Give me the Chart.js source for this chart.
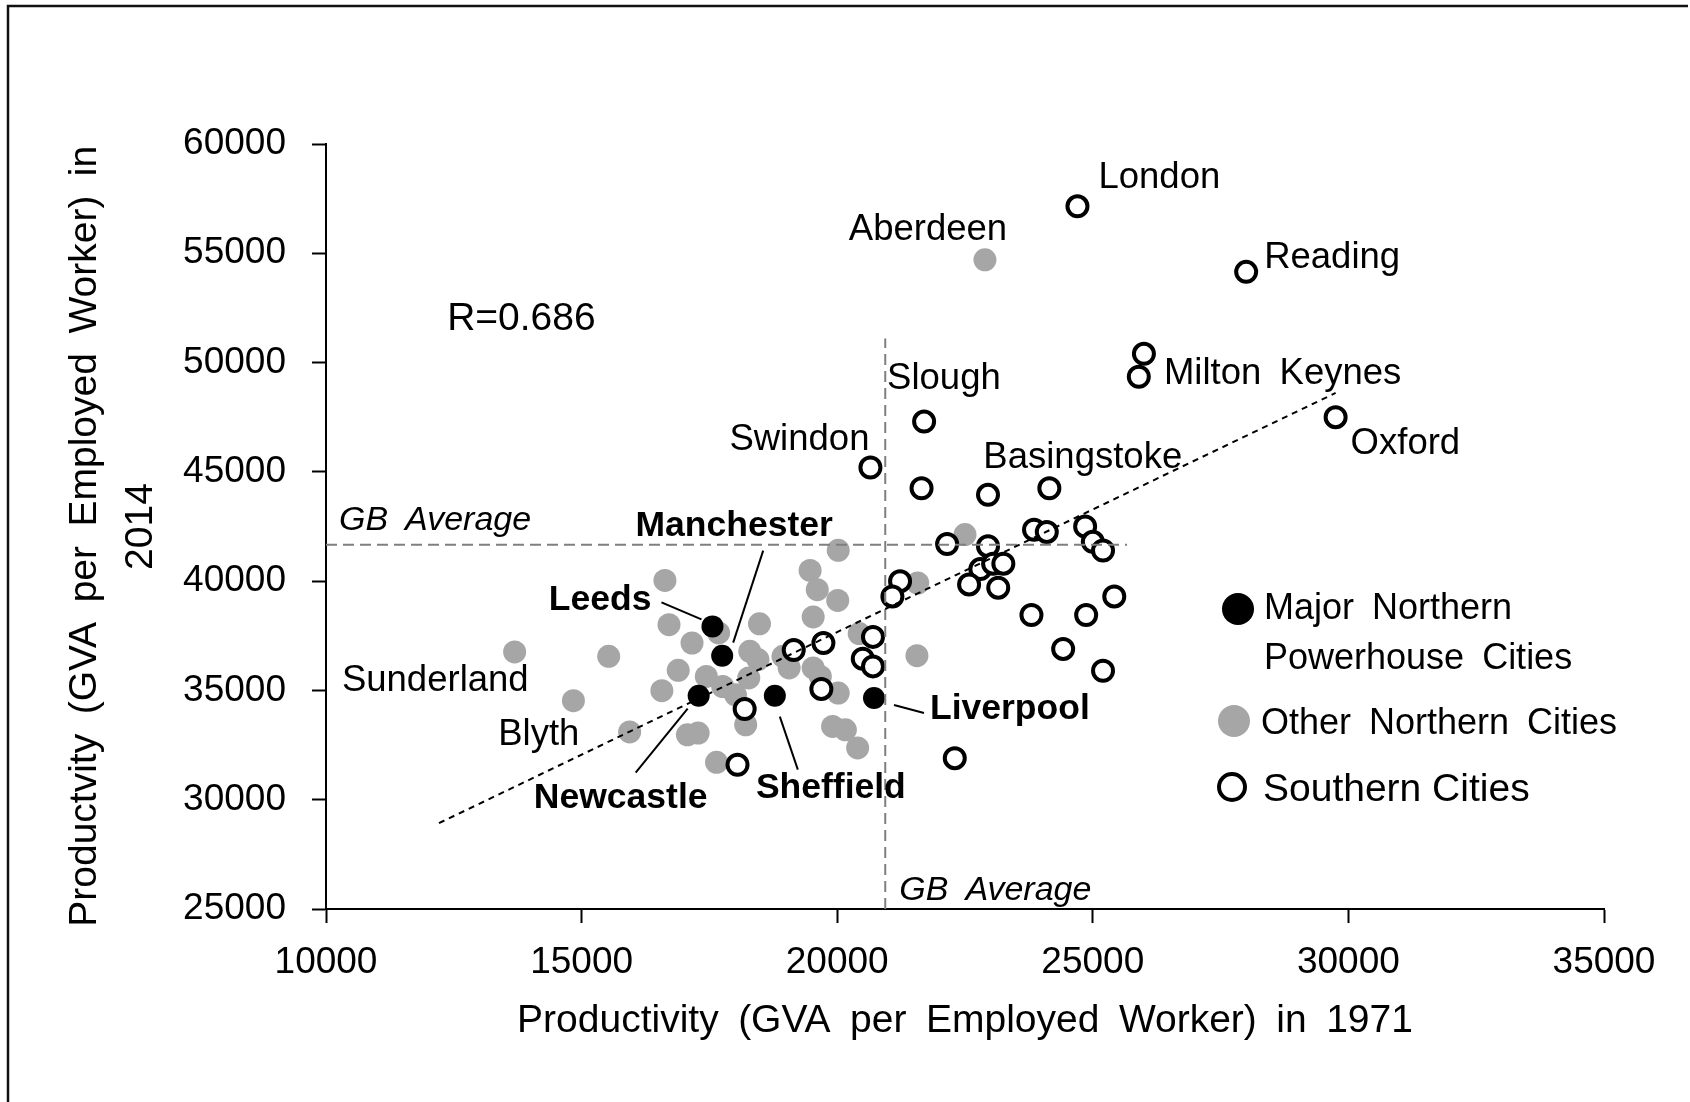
<!DOCTYPE html>
<html>
<head>
<meta charset="utf-8">
<script src="https://cdn.jsdelivr.net/npm/chart.js@4.4.1/dist/chart.umd.min.js"></script>
<style>
  html, body { margin: 0; padding: 0; background: #fff; }
  canvas { display: block; }
</style>
</head>
<body>
<canvas id="chart" width="1690" height="1102"></canvas>
<script>
// Productivity (GVA per employed worker) by city: 1971 against 2014

// Axis ticks
const xTicks = [10000, 15000, 20000, 25000, 30000, 35000];
const yTicks = [25000, 30000, 35000, 40000, 45000, 50000, 55000, 60000];

// Major Northern Powerhouse cities
const majorNames = ['Leeds', 'Manchester', 'Newcastle', 'Sheffield', 'Liverpool'];
const major1971  = [17560, 17750, 17290, 18780, 20720];
const major2014  = [37930, 36590, 34760, 34760, 34650];

// Other Northern cities
const otherNames = ['Aberdeen', 'Sunderland', 'Blyth', '', '', '', '', '', '', '', '', '', '', '', '', '', '', '', '', '', '', '', '', '', '', '', '', '', '', '', '', '', '', '', '', '', '', '', ''];
const other1971  = [22890, 13690, 14840, 15530, 15940, 16630, 16710, 17160, 16890, 16570, 17440, 17680, 18480, 18290, 18450, 18270, 17760, 18010, 18210, 17070, 17280, 17640, 19060, 18940, 19470, 19610, 20020, 20010, 19530, 19530, 19670, 20020, 19910, 20160, 20400, 20430, 21560, 21575, 22500];
const other2014  = [54700, 36760, 34530, 36560, 33100, 40030, 38010, 37170, 35920, 34990, 35640, 37630, 38050, 36790, 36410, 35570, 35180, 34800, 33430, 32970, 33050, 31710, 36030, 36560, 40490, 39610, 41410, 39120, 38360, 36030, 35640, 34880, 33350, 33200, 32370, 37600, 36590, 39915, 42130];

// Southern cities
const southNames = ['London', 'Reading', 'Milton\u2002Keynes', '', 'Oxford', 'Slough', 'Swindon', '', '', 'Basingstoke', '', '', '', '', '', '', '', '', '', '', '', '', '', '', '', '', '', '', '', '', '', '', '', '', '', '', '', ''];
const south1971  = [24700, 28000, 26000, 25900, 29750, 21700, 20650, 21650, 22950, 24150, 22150, 22950, 23850, 24100, 24850, 25000, 25200, 22800, 23050, 23250, 22580, 23150, 21230, 21080, 23800, 24870, 25420, 24420, 25200, 22300, 20700, 20500, 20700, 19150, 19730, 19690, 18190, 18050];
const south2014  = [57150, 54150, 50400, 49350, 47500, 47300, 45200, 44250, 43950, 44250, 41700, 41600, 42350, 42250, 42500, 41800, 41400, 40550, 40800, 40800, 39850, 39700, 40000, 39300, 38450, 38450, 39300, 36900, 35900, 31900, 37450, 36450, 36100, 36850, 37170, 35070, 34150, 31600];

// Linear fit end points
const trend1971 = [12210, 29750];
const trend2014 = [28930, 48610];

// GB averages and how far their guide lines run
const gbAverage1971 = 20940;
const gbAverage2014 = 41670;
const gbGuideTop2014 = 51100;
const gbGuideRight1971 = 25670;

const correlationText = 'R=0.686';
const xTitle = 'Productivity\u2002(GVA\u2002per\u2002Employed\u2002Worker)\u2002in\u20021971';
const yTitle = ['Productvity\u2002(GVA\u2002per\u2002Employed\u2002Worker)\u2002in\u2002', '2014'];
const gbLabel = 'GB\u2002Average';
const legendText = [['Major\u2002Northern', 'Powerhouse\u2002Cities'], ['Other\u2002Northern\u2002Cities'], ['Southern Cities']];

const toPoints = (xs, ys) => xs.map((x, i) => ({ x: x, y: ys[i] }));

const FONT = "'Liberation Sans', Arial, Helvetica, sans-serif";
const GREY = '#a6a6a6';
const TEXT_DROP = 3; // nudges 'middle' baseline onto the cap-height centre

// Label placement, in pixels from the labelled point
const cityLabels = [
  { name: 'London',        set: 2, dx: 21,  dy: -31,  align: 'left' },
  { name: 'Reading',       set: 2, dx: 18,  dy: -17,  align: 'left' },
  { name: 'Milton\u2002Keynes', set: 2, dx: 20,  dy: 17,   align: 'left' },
  { name: 'Oxford',        set: 2, dx: 15,  dy: 24,   align: 'left' },
  { name: 'Slough',        set: 2, dx: -37, dy: -46,  align: 'left' },
  { name: 'Swindon',       set: 2, dx: -1,  dy: -31,  align: 'right' },
  { name: 'Basingstoke',   set: 2, dx: -66, dy: -33,  align: 'left' },
  { name: 'Aberdeen',      set: 1, dx: -57, dy: -33,  align: 'center' },
  { name: 'Sunderland',    set: 1, dx: 14,  dy: 26,   align: 'right' },
  { name: 'Blyth',         set: 1, dx: 6,   dy: 31,   align: 'right' },
  { name: 'Leeds',      set: 0, dx: -61, dy: -29, align: 'right',  bold: true, leader: [-51, -24, -11, -7] },
  { name: 'Manchester', set: 0, dx: 12,  dy: -132, align: 'center', bold: true, leader: [41, -105, 11, -13] },
  { name: 'Newcastle',  set: 0, dx: -78, dy: 100, align: 'center', bold: true, leader: [-63, 77, -11, 13] },
  { name: 'Sheffield',  set: 0, dx: 56,  dy: 90,  align: 'center', bold: true, leader: [23, 74, 5, 21] },
  { name: 'Liverpool',  set: 0, dx: 56,  dy: 8,   align: 'left',   bold: true, leader: [20, 7, 50, 15] }
];
const nameLists = [majorNames, otherNames, southNames];

// White page with the frame lines along the left and top
const framePlugin = {
  id: 'frame',
  beforeDraw(chart) {
    const ctx = chart.ctx;
    ctx.save();
    ctx.fillStyle = '#fff';
    ctx.fillRect(0, 0, chart.width, chart.height);
    ctx.strokeStyle = '#111';
    ctx.lineWidth = 2.5;
    ctx.beginPath();
    ctx.moveTo(8, chart.height);
    ctx.lineTo(8, 6);
    ctx.lineTo(1688, 6);
    ctx.stroke();
    ctx.restore();
  }
};

// City names, leader lines, correlation note and GB average captions
const annotationPlugin = {
  id: 'annotations',
  afterDatasetsDraw(chart) {
    const ctx = chart.ctx;
    const xs = chart.scales.x, ys = chart.scales.y;
    ctx.save();
    ctx.fillStyle = '#000';
    ctx.strokeStyle = '#000';
    ctx.textBaseline = 'middle';

    cityLabels.forEach(l => {
      const idx = nameLists[l.set].indexOf(l.name);
      const pt = chart.getDatasetMeta(l.set).data[idx];
      if (!pt) return;
      if (l.leader) {
        ctx.lineWidth = 2;
        ctx.beginPath();
        ctx.moveTo(pt.x + l.leader[0], pt.y + l.leader[1]);
        ctx.lineTo(pt.x + l.leader[2], pt.y + l.leader[3]);
        ctx.stroke();
      }
      ctx.font = (l.bold ? 'bold 35.5px ' : '36.5px ') + FONT;
      ctx.textAlign = l.align;
      ctx.fillText(l.name, pt.x + l.dx, pt.y + l.dy + TEXT_DROP);
    });

    // correlation coefficient
    ctx.font = '39px ' + FONT;
    ctx.textAlign = 'left';
    ctx.fillText(correlationText, xs.getPixelForValue(12370), ys.getPixelForValue(52160) + TEXT_DROP + 1);

    // GB average captions
    ctx.font = 'italic 34px ' + FONT;
    ctx.fillText(gbLabel, chart.chartArea.left + 13, ys.getPixelForValue(gbAverage2014) - 27 + TEXT_DROP);
    ctx.fillText(gbLabel, xs.getPixelForValue(gbAverage1971) + 14, chart.chartArea.bottom - 21 + TEXT_DROP);
    ctx.restore();
  }
};

// Legend drawn inside the plot, using each dataset's own point style
const legendPlugin = {
  id: 'insideLegend',
  afterDraw(chart) {
    const ctx = chart.ctx;
    const rows = [
      { ds: 0, cx: 1238, cy: 609, r: 16, tx: 1264, ty: 606, size: 36 },
      { ds: 1, cx: 1234, cy: 721, r: 16, tx: 1261, ty: 721, size: 36 },
      { ds: 2, cx: 1232, cy: 787, r: 13, tx: 1263, ty: 787, size: 39 }
    ];
    ctx.save();
    rows.forEach((row, i) => {
      const d = chart.data.datasets[row.ds];
      ctx.beginPath();
      ctx.arc(row.cx, row.cy, row.r, 0, Math.PI * 2);
      ctx.fillStyle = d.backgroundColor;
      ctx.fill();
      if (d.borderWidth) {
        ctx.lineWidth = d.borderWidth;
        ctx.strokeStyle = d.borderColor;
        ctx.stroke();
      }
      ctx.fillStyle = '#000';
      ctx.font = row.size + 'px ' + FONT;
      ctx.textAlign = 'left';
      ctx.textBaseline = 'middle';
      legendText[i].forEach((t, k) => ctx.fillText(t, row.tx, row.ty + k * 50 + TEXT_DROP));
    });
    ctx.restore();
  }
};

new Chart(document.getElementById('chart'), {
  type: 'scatter',
  data: {
    datasets: [
      {
        label: 'Major Northern Powerhouse Cities',
        data: toPoints(major1971, major2014),
        backgroundColor: '#000', borderColor: '#000', borderWidth: 0,
        pointRadius: 11, order: 3
      },
      {
        label: 'Other Northern Cities',
        data: toPoints(other1971, other2014),
        backgroundColor: GREY, borderColor: GREY, borderWidth: 0,
        pointRadius: 11.5, order: 4
      },
      {
        label: 'Southern Cities',
        data: toPoints(south1971, south2014),
        backgroundColor: '#fff', borderColor: '#000', borderWidth: 4,
        pointRadius: 10, order: 2
      },
      {
        label: 'Trend',
        data: toPoints(trend1971, trend2014),
        showLine: true, borderColor: '#000', borderWidth: 2, borderDash: [6, 5],
        pointRadius: 0, order: 1
      },
      {
        label: 'GB average 1971',
        data: toPoints([gbAverage1971, gbAverage1971], [yTicks[0], gbGuideTop2014]),
        showLine: true, borderColor: '#7f7f7f', borderWidth: 2, borderDash: [11, 6],
        pointRadius: 0, order: 1
      },
      {
        label: 'GB average 2014',
        data: toPoints([xTicks[0], gbGuideRight1971], [gbAverage2014, gbAverage2014]),
        showLine: true, borderColor: '#7f7f7f', borderWidth: 2, borderDash: [11, 6],
        pointRadius: 0, order: 1
      }
    ]
  },
  options: {
    responsive: false,
    animation: false,
    devicePixelRatio: 1,
    layout: { padding: { left: 0, top: 144, right: 86, bottom: 0 } },
    plugins: { legend: { display: false }, tooltip: { enabled: false } },
    scales: {
      x: {
        type: 'linear', position: 'bottom',
        min: xTicks[0], max: xTicks[xTicks.length - 1],
        afterBuildTicks: s => { s.ticks = xTicks.map(v => ({ value: v })); },
        afterFit: s => { s.height = 193; },
        ticks: { color: '#000', font: { family: FONT, size: 37 }, padding: 18, maxRotation: 0, autoSkip: false, callback: v => String(v) },
        grid: { drawOnChartArea: false, drawTicks: true, tickLength: 14, tickWidth: 2, tickColor: '#000' },
        border: { display: true, color: '#000', width: 2 },
        title: { display: true, text: xTitle, color: '#000', font: { family: FONT, size: 39 }, padding: { top: 0, bottom: 57 } }
      },
      y: {
        type: 'linear', position: 'left',
        min: yTicks[0], max: yTicks[yTicks.length - 1],
        afterBuildTicks: s => { s.ticks = yTicks.map(v => ({ value: v })); },
        afterFit: s => { s.width = 326; },
        ticks: { color: '#000', font: { family: FONT, size: 37 }, padding: 26, autoSkip: false, callback: v => String(v) },
        grid: { drawOnChartArea: false, drawTicks: true, tickLength: 14, tickWidth: 2, tickColor: '#000' },
        border: { display: true, color: '#000', width: 2 },
        title: { display: true, text: yTitle, color: '#000', font: { family: FONT, size: 39, lineHeight: 1.42 }, padding: { top: 58, bottom: 0 } }
      }
    }
  },
  plugins: [framePlugin, annotationPlugin, legendPlugin]
});
</script>
</body>
</html>
